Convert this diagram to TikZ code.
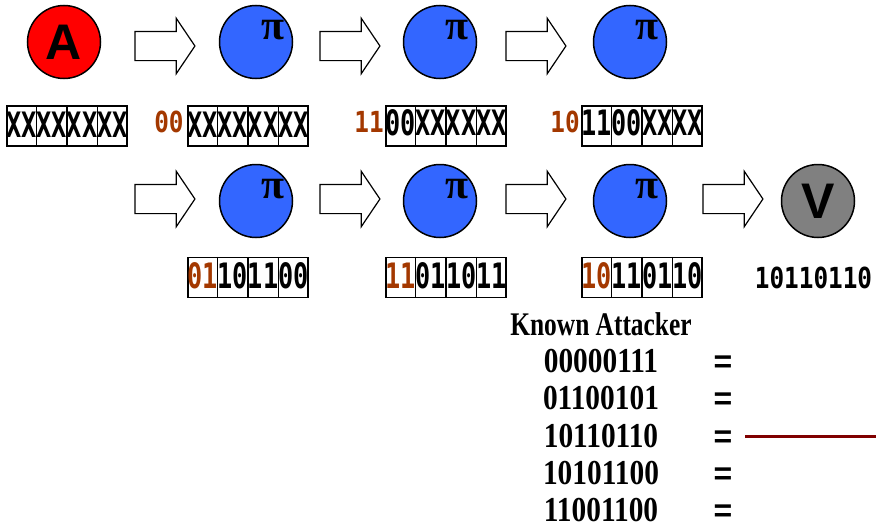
\documentclass[tikz,border=0pt]{standalone}
\usepackage{fontspec}
\usetikzlibrary{shapes.arrows,calc}
\setmainfont{Liberation Serif}
\newfontfamily\sansf{Liberation Sans}
\newfontfamily\monoc[FakeStretch=0.72]{DejaVu Sans Mono}
\newfontfamily\monod[FakeStretch=0.84]{DejaVu Sans Mono}
\newfontfamily\serc[FakeStretch=0.77]{Liberation Serif}
\newfontfamily\sern[FakeStretch=0.84]{Liberation Serif}
\definecolor{orng}{RGB}{163,56,0}
\definecolor{blu}{RGB}{51,102,255}
\definecolor{dred}{RGB}{128,0,0}
\definecolor{gry}{RGB}{128,128,128}
\begin{document}
\begin{tikzpicture}[x=1pt,y=-1pt,
  circ/.style={circle,draw=black,line width=1.5pt,minimum size=73pt,inner sep=0pt,
    font=\sansf\bfseries\fontsize{50}{50}\selectfont},
  pinode/.style={circ,fill=blu},
  pitext/.style={inner sep=0pt,font=\bfseries\fontsize{42}{42}\selectfont},
  barrow/.style={single arrow,draw=black,line width=1.2pt,fill=white,
    minimum height=60pt,text height=14pt,text depth=14pt,text width=0pt,inner sep=0pt,
    single arrow head extend=13pt,single arrow tip angle=112},
  strip/.style={draw=black,line width=1.5pt,minimum width=120pt,minimum height=40pt,inner sep=0pt},
  bits/.style={inner sep=0pt,font=\monoc\bfseries\fontsize{35}{35}\selectfont},
  pre/.style={inner sep=0pt,text=orng,font=\monod\bfseries\fontsize{29}{29}\selectfont},
  freebits/.style={inner sep=0pt,font=\monod\bfseries\fontsize{29}{29}\selectfont},
  head/.style={inner sep=0pt,anchor=base,font=\serc\bfseries\fontsize{33}{33}\selectfont},
  num/.style={inner sep=0pt,anchor=base,font=\sern\bfseries\fontsize{35}{35}\selectfont},
  eqs/.style={inner sep=0pt,anchor=base,font=\sansf\bfseries\fontsize{32}{32}\selectfont},
  redline/.style={draw=dred,line width=3pt}
]
\useasboundingbox (0,0) rectangle (876,530);
% row 1
\node[circ,fill=red] (A) at (64,42) {A};
\node[barrow] (a1) at (160,46) {};
\node[pinode] (p1) at (256,42) {};
\node[barrow] (a2) at (345,46) {};
\node[pinode] (p2) at (440,42) {};
\node[barrow] (a3) at (531,46) {};
\node[pinode] (p3) at (630,42) {};
% row 2
\node[barrow] (b1) at (160,199) {};
\node[pinode] (q1) at (256,201) {};
\node[barrow] (b2) at (345,199) {};
\node[pinode] (q2) at (440,201) {};
\node[barrow] (b3) at (531,199) {};
\node[pinode] (q3) at (630,201) {};
\node[barrow] (b4) at (728,199) {};
\node[circ,fill=gry] (V) at (818,201) {V};
% pi labels
\foreach \c in {p1,p2,p3,q1,q2,q3}
  \node[pitext] (\c t) at ([shift={(17,-12)}]\c.center) {π};
% strips
\node[strip] (s1) at (67,126) {};
\node[strip] (s2) at (248,126) {};
\node[strip] (s3) at (446,126) {};
\node[strip] (s4) at (642,126) {};
\node[strip] (r1) at (248,277.5) {};
\node[strip] (r2) at (446,277.5) {};
\node[strip] (r3) at (642,277.5) {};
\foreach \s in {s1,s2,s3,s4,r1,r2,r3}
  \foreach \f in {0.25,0.5,0.75}
    \draw[line width=1.5pt] ($(\s.north west)!\f!(\s.north east)$) -- ($(\s.south west)!\f!(\s.south east)$);
\node[bits] (s1b) at (67,125) {XXXXXXXX};
\node[bits] (s2b) at (248,125) {XXXXXXXX};
\node[bits] (s3b) at (446,123) {00XXXXXX};
\node[bits] (s4b) at (642,123) {1100XXXX};
\node[pre] (s2p) at (169,122) {00};
\node[pre] (s3p) at (369,122) {11};
\node[pre] (s4p) at (565,122) {10};
\node[bits] (r1b) at (248,276) {\textcolor{orng}{01}101100};
\node[bits] (r2b) at (446,276) {\textcolor{orng}{11}011011};
\node[bits] (r3b) at (642,276) {\textcolor{orng}{10}110110};
\node[freebits] (vb) at (813.5,277.5) {10110110};
% known attacker list
\node[head] (ka) at (601,335) {Known Attacker};
\node[num] (n1) at (601,372) {00000111};
\node[num] (n2) at (601,409.5) {01100101};
\node[num] (n3) at (601,447) {10110110};
\node[num] (n4) at (601,484.5) {10101100};
\node[num] (n5) at (601,521) {11001100};
\node[eqs] (e1) at (723,372) {=};
\node[eqs] (e2) at (723,409.5) {=};
\node[eqs] (e3) at (723,447) {=};
\node[eqs] (e4) at (723,484.5) {=};
\node[eqs] (e5) at (723,521) {=};
\coordinate (ls) at (745,436);
\coordinate (le) at (876,436);
\draw[redline] (ls) -- (le);
\end{tikzpicture}
\end{document}
